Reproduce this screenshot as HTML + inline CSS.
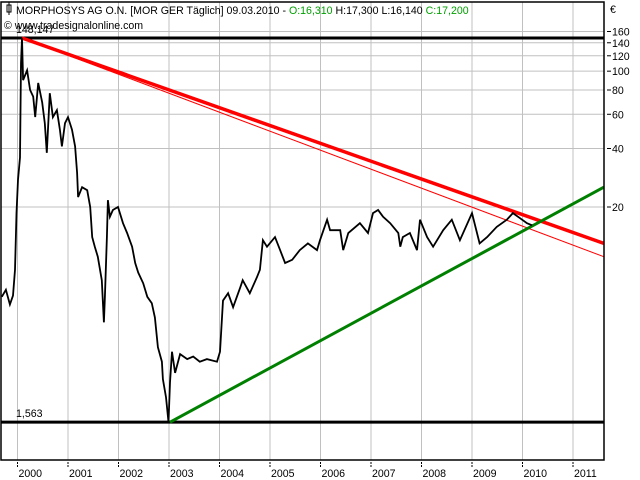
<!DOCTYPE html>
<html><head><meta charset="utf-8"><style>
body{margin:0;background:#fff;width:640px;height:480px;overflow:hidden}
svg{display:block;font-family:"Liberation Sans",sans-serif}
</style></head><body>
<svg id="chart" width="640" height="480" viewBox="0 0 640 480" xmlns="http://www.w3.org/2000/svg">
<rect x="0" y="0" width="640" height="480" fill="#fff"/>
<g id="grid"></g>
<g id="trend"></g>
<g id="series"></g>
<g id="axes"></g>
<g font-size="10.6" fill="#000">
<rect x="7" y="5" width="4" height="7" fill="none" stroke="#000" stroke-width="1"/><line x1="9" y1="2" x2="9" y2="15" stroke="#000"/>
<text x="16" y="14">MORPHOSYS AG O.N. [MOR GER  Täglich] 09.03.2010 - <tspan fill="#00a000">O:16,310</tspan> H:17,300 L:16,140 <tspan fill="#00a000">C:17,200</tspan></text>
<text x="4" y="29">© www.tradesignalonline.com</text>
<text x="610" y="13">€</text>
</g>
</svg>
<script>
const years=[1999.69,1999.77,1999.85,1999.91,1999.95,1999.98,2000.01,2000.05,2000.07,2000.09,2000.11,2000.19,2000.25,2000.31,2000.35,2000.41,2000.49,2000.54,2000.58,2000.64,2000.70,2000.78,2000.84,2000.88,2000.94,2001.00,2001.08,2001.14,2001.18,2001.20,2001.28,2001.38,2001.44,2001.48,2001.53,2001.59,2001.67,2001.71,2001.73,2001.77,2001.79,2001.83,2001.89,2001.99,2002.09,2002.17,2002.27,2002.33,2002.39,2002.49,2002.57,2002.66,2002.72,2002.78,2002.86,2002.88,2002.94,2002.99,2003.02,2003.06,2003.12,2003.22,2003.36,2003.48,2003.61,2003.75,2003.95,2004.01,2004.07,2004.17,2004.27,2004.41,2004.46,2004.60,2004.74,2004.80,2004.86,2004.94,2005.10,2005.20,2005.30,2005.44,2005.59,2005.75,2005.93,2005.99,2006.13,2006.19,2006.39,2006.45,2006.55,2006.78,2006.94,2007.04,2007.14,2007.24,2007.38,2007.54,2007.58,2007.63,2007.77,2007.91,2007.97,2008.11,2008.23,2008.43,2008.60,2008.76,2009.00,2009.15,2009.30,2009.49,2009.69,2009.81,2009.94,2010.09,2010.19];
const prices=[6.9,7.5,6.3,7.0,9.5,18.6,27.6,36,110,148,90,101,80,74,58,87,69,54,38,77,58,63,50,41,54,58,50,41,30,22.5,25.3,24.4,20,14,12.5,11.1,8.4,5.1,6.9,14,21.7,17.8,19.3,20,16.5,14.7,12.5,10.3,9.2,8.1,6.9,6.4,5.4,3.8,3.2,2.6,2.1,1.563,2.5,3.6,2.8,3.5,3.3,3.4,3.2,3.3,3.2,3.6,6.6,7.2,6.1,7.7,8.4,7.2,8.7,9.5,13.5,12.5,14,12,10.3,10.7,12,13,12,13.5,17.2,15.2,15.2,12,14.7,16.5,14.7,18.6,19.3,17.8,16.5,14.7,12.5,14,14.7,12,17.2,14,12.5,15.2,17.2,13.5,18.6,13,14,15.8,17.2,18.6,17.6,16.5,16.1];
const yTicks=[20,40,60,80,100,120,140,160];
const yearTicks=[2000,2001,2002,2003,2004,2005,2006,2007,2008,2009,2010,2011];
const hLevels=[148.147,1.563];
const hLabels=["148,147","1,563"];
const redThick=[[2000.09,148.147],[2011.61,13.0]];
const redThin=[[2000.09,148.147],[2011.61,11.1]];
const greenLine=[[2003.02,1.563],[2011.61,25.3]];

const L=1,R=604,T=2,B=460;
const X=y=>17.5+(y-2000)*50.5;
const Y=v=>207-58.5*Math.log2(v/20);
const NS="http://www.w3.org/2000/svg";
function mk(tag,attrs,parent){const e=document.createElementNS(NS,tag);for(const k in attrs)e.setAttribute(k,attrs[k]);parent.appendChild(e);return e;}
const grid=document.getElementById('grid'),axes=document.getElementById('axes'),trend=document.getElementById('trend'),series=document.getElementById('series');
yearTicks.forEach(t=>{
 const g=mk('line',{x1:X(t),x2:X(t),y1:T,y2:B,stroke:'#c0c0c0','stroke-width':1},grid);
 
 
 const tk=mk('line',{x1:X(t),x2:X(t),y1:B+2,y2:B+8,stroke:'#000','stroke-width':1,'stroke-dasharray':'2,1'},axes);
 
 
 const lb=mk('text',{x:X(t)+1,y:B+17,'font-size':10.6},axes);lb.textContent=t;
 
 
});
yTicks.forEach(v=>{
 const g=mk('line',{x1:L,x2:R,y1:Y(v),y2:Y(v),stroke:'#c0c0c0','stroke-width':1},grid);
 
 
 const tk=mk('line',{x1:R+3,x2:R+7,y1:Y(v),y2:Y(v),stroke:'#000'},axes);
 
 
 const lb=mk('text',{x:R+8,y:Y(v)+4,'font-size':10.6},axes);lb.textContent=v;
 
 
});
const fr=mk('rect',{x:L,y:T,width:R-L,height:B-T,fill:'none',stroke:'#000','stroke-width':1.5},axes);


hLevels.forEach((v,i)=>{
 const l=mk('line',{x1:L,x2:R,y1:Y(v),y2:Y(v),stroke:'#000','stroke-width':3},trend);
 
 
 const t=mk('text',{x:16,y:Y(v)-5,'font-size':10.6},trend);t.textContent=hLabels[i];
 
 
});
function seg(p,color,w,name){
 const l=mk('line',{x1:X(p[0][0]),y1:Y(p[0][1]),x2:X(p[1][0]),y2:Y(p[1][1]),stroke:color,'stroke-width':w},trend);
 
 
}
seg(redThin,'#ff0000',1,'red-thin-trendline');
seg(redThick,'#ff0000',3.5,'red-resistance-trendline');
seg(greenLine,'#008000',3,'green-support-trendline');
const d=years.map((y,i)=>(i?'L':'M')+X(y).toFixed(1)+' '+Y(prices[i]).toFixed(1)).join(' ');
const p=mk('path',{d:d,fill:'none',stroke:'#000','stroke-width':1.8,'stroke-linejoin':'miter'},series);


</script>
</body></html>
